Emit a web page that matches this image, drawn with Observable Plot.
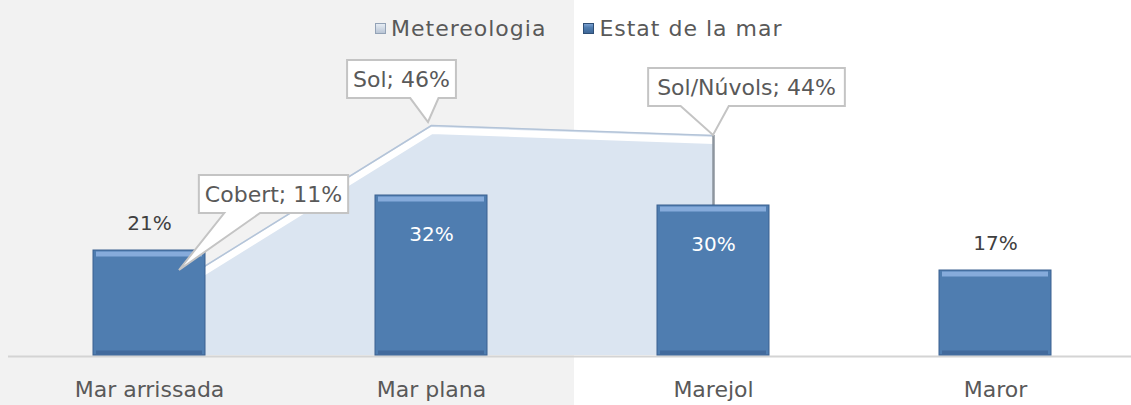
<!DOCTYPE html>
<html><head><meta charset="utf-8">
<script src="https://cdn.jsdelivr.net/npm/d3@7"></script>
<script src="https://cdn.jsdelivr.net/npm/@observablehq/plot@0.6"></script>
<style>
html,body{margin:0;padding:0;}
body{width:1131px;height:405px;overflow:hidden;position:relative;
  background:linear-gradient(to right,#f2f2f2 0,#f2f2f2 574px,#ffffff 574px,#ffffff 100%);
  font-family:"DejaVu Sans",sans-serif;}
#chart{position:absolute;left:0;top:0;}
#legend{position:absolute;left:375px;top:16px;display:flex;align-items:center;gap:37px;
  font-size:22px;color:#595959;letter-spacing:1px;}
.item{display:flex;align-items:center;}
.sw{display:inline-block;width:11px;height:11px;margin-right:5px;box-sizing:border-box;}
.sw0{background:linear-gradient(#e6ecf3,#b9c5d5);border:1px solid #93a2b6;}
.sw1{background:linear-gradient(#7aa0d0,#4f7db0 40%,#3f6797);border:1px solid #2f4f76;}
</style></head><body>
<div id="chart"></div>
<div id="legend"></div>
<script>
// ---- data ----
const categories = ["Mar arrissada", "Mar plana", "Marejol", "Maror"];
const seaValues = [21, 32, 30, 17];
const meteoCategories = ["Mar arrissada", "Mar plana", "Marejol"];
const meteoLabels = ["Cobert", "Sol", "Sol/Núvols"];
const meteoValues = [11, 46, 44];
const seriesNames = ["Metereologia", "Estat de la mar"];

// ---- callout layout (style only) ----
const calloutLayout = [
  {dx: 124, dy: -106, tipDx: 30, tipDy: -30, tail: [0.17, 0.41], pad: 6},
  {dx: -30, dy: -46, tipDx: -3, tipDy: -3, tail: [0.58, 0.84], pad: 6},
  {dx: 33, dy: -48, tipDx: 0, tipDy: 0, tail: [0.165, 0.41], pad: 9}
];

const sea = categories.map((c, i) => ({cat: c, value: seaValues[i]}));
const meteo = meteoCategories.map((c, i) => ({cat: c, value: meteoValues[i], label: meteoLabels[i]}));
const meteoByCat = new Map(meteo.map(d => [d.cat, d.value]));
const inside = d => (meteoByCat.get(d.cat) ?? 0) > d.value;

const plot = Plot.plot({
  width: 1131, height: 405,
  marginTop: 105, marginBottom: 50, marginLeft: 8, marginRight: 0,
  style: {background: "transparent", fontFamily: "DejaVu Sans", fontSize: "22px", color: "#595959", overflow: "visible"},
  x: {domain: categories, range: [8, 1136], paddingInner: 0.603, paddingOuter: 0.3015, align: 0.5,
      tickSize: 0, tickPadding: 26, label: null},
  y: {domain: [0, 50], axis: null},
  marks: [
    Plot.areaY(meteo, {x: "cat", y: "value", fill: "#dbe5f1"}),
    Plot.lineY(meteo, {x: "cat", y: "value", stroke: "#ffffff", strokeWidth: 7, dy: 5}),
    Plot.lineY(meteo, {x: "cat", y: "value", stroke: "#b4c4d8", strokeWidth: 1.5}),
    Plot.ruleX(meteo, {filter: (d, i) => i === meteo.length - 1, x: "cat", y1: 0, y2: "value", stroke: "#8d959e", strokeWidth: 2.5}),
    Plot.ruleY([0], {stroke: "#d4d4d4", strokeWidth: 2, dy: 1}),
    Plot.barY(sea, {x: "cat", y: "value", fill: "#4f7db0", stroke: "#3a6190", strokeWidth: 1}),
    Plot.tickY(sea, {x: "cat", y: "value", stroke: "#86abdb", strokeWidth: 5, dy: 3.5, insetLeft: 3, insetRight: 3}),
    Plot.tickY(sea, {x: "cat", y: () => 0, stroke: "#426a9c", strokeWidth: 4, dy: -3, insetLeft: 3, insetRight: 3}),
    Plot.text(sea, {filter: d => !inside(d), x: "cat", y: "value", text: d => d.value + "%", dy: -27, fill: "#404040", fontSize: 20}),
    Plot.text(sea, {filter: inside, x: "cat", y: "value", text: d => d.value + "%", dy: 39, fill: "#ffffff", fontSize: 20}),
    ...meteo.map((m, i) => Plot.text([m], {
      x: "cat", y: "value", text: d => `${d.label}; ${d.value}%`,
      dx: calloutLayout[i].dx, dy: calloutLayout[i].dy, fill: "#595959", fontSize: 22,
      ariaLabel: () => "callout-" + i
    }))
  ]
});
document.getElementById("chart").append(plot);

function translateOf(el) {
  const m = /translate\(([-\d.e]+)[,\s]+([-\d.e]+)\)/.exec(el.getAttribute("transform") || "");
  return m ? [+m[1], +m[2]] : [0, 0];
}

// callout boxes with pointer tails (drawn in the text group's coordinates)
const xs = plot.scale("x"), ys = plot.scale("y");
meteo.forEach((d, i) => {
  const L = calloutLayout[i];
  const t = plot.querySelector(`text[aria-label="callout-${i}"]`);
  if (!t) return;
  const g = t.parentNode;
  const [gx, gy] = translateOf(g);
  const [tx, ty] = translateOf(t);
  const bb = t.getBBox();
  const bx = bb.x + tx, by = bb.y + ty;
  const x0 = bx - L.pad, x1 = bx + bb.width + L.pad;
  const cy = by + bb.height / 2;
  const y0 = cy - 19, y1 = cy + 19;
  const px = xs.apply(d.cat) + (xs.bandwidth || 0) / 2 + L.tipDx - gx;
  const py = ys.apply(d.value) + L.tipDy - gy;
  const w = x1 - x0;
  const b0 = x0 + w * L.tail[0], b1 = x0 + w * L.tail[1];
  const path = `M${x0},${y0}H${x1}V${y1}H${b1}L${px},${py}L${b0},${y1}H${x0}Z`;
  const p = document.createElementNS("http://www.w3.org/2000/svg", "path");
  p.setAttribute("d", path);
  p.setAttribute("fill", "#ffffff");
  p.setAttribute("stroke", "#c4c4c4");
  p.setAttribute("stroke-width", "2");
  g.insertBefore(p, t);
});

// legend
const legend = document.getElementById("legend");
seriesNames.forEach((name, i) => {
  const it = document.createElement("div");
  it.className = "item";
  const sw = document.createElement("span");
  sw.className = "sw sw" + i;
  it.append(sw, document.createTextNode(name));
  legend.append(it);
});
</script>
</body></html>
